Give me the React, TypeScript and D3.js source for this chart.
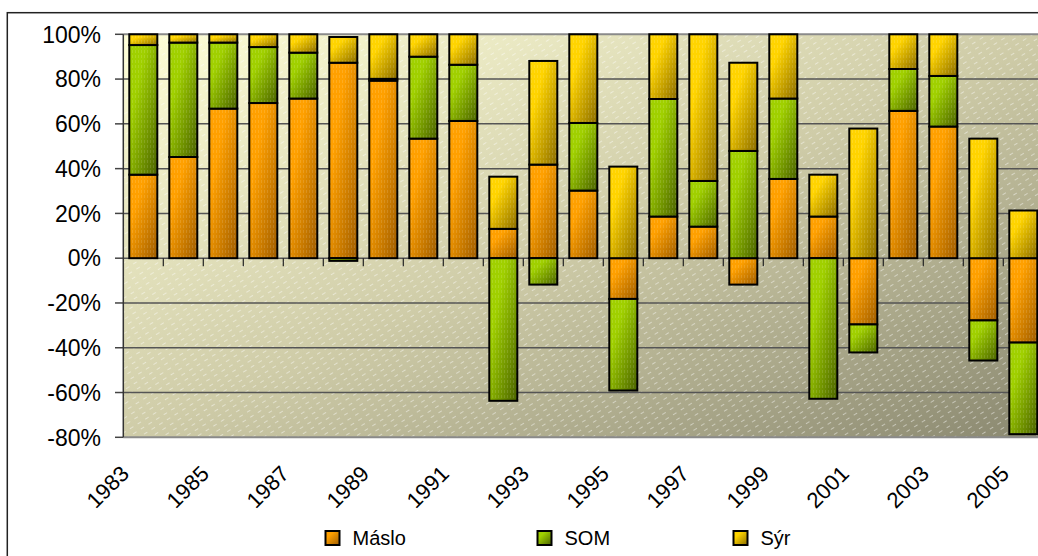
import React from "react";
import * as d3 from "d3";

const years = ["1983","1984","1985","1986","1987","1988","1989","1990","1991","1992","1993","1994","1995","1996","1997","1998","1999","2000","2001","2002","2003","2004","2005"];
const maslo = [37.3, 45.2, 66.8, 69.3, 71.3, 87.3, 79.3, 53.4, 61.3, 13.1, 41.8, 30.2, -18.2, 18.6, 14.1, -11.8, 35.4, 18.6, -29.6, 65.8, 58.8, -27.8, -37.7];
const som = [57.9, 51.1, 29.5, 25.0, 20.5, -1.2, 0.8, 36.6, 25.1, -63.7, -11.8, 30.2, -40.9, 52.5, 20.4, 47.9, 35.9, -62.8, -12.5, 18.7, 22.6, -17.9, -40.9];
const syr = [4.8, 3.7, 3.7, 5.7, 8.2, 11.5, 19.9, 10.0, 13.6, 23.3, 46.3, 39.6, 40.9, 28.9, 65.5, 39.4, 28.7, 18.7, 57.9, 15.5, 18.6, 53.4, 21.3];
const seriesNames = ["Máslo", "SOM", "Sýr"];
const yTicks = [100, 80, 60, 40, 20, 0, -20, -40, -60, -80];
const yearLabels = ["1983","1985","1987","1989","1991","1993","1995","1997","1999","2001","2003","2005"];

const gradStops: Record<string, [string, string]> = {
  "Máslo": ["#FFA000", "#9E5C00"],
  "SOM": ["#A0D000", "#4A6200"],
  "Sýr": ["#FFD400", "#8A6C00"],
};

export default function App() {
  const left = 123.3, right = 1043.3, top = 34.3, bottom = 437.3;
  const x = d3.scaleBand<string>().domain(years).range([left, right]).paddingInner(0.3).paddingOuter(0.15);
  const y = d3.scaleLinear().domain([-80, 100]).range([bottom, top]);
  const table = years.map((yr, i) => ({ year: yr, "Máslo": maslo[i], "SOM": som[i], "Sýr": syr[i] }));
  const stack = d3.stack<any>().keys(seriesNames).offset(d3.stackOffsetDiverging);
  const layers = stack(table);
  const step = x.step();
  const font = "'Liberation Sans', Arial, sans-serif";
  const gid = (n: string) => "g" + seriesNames.indexOf(n);

  return (
    <svg width={1038} height={556} style={{ position: "absolute", left: 0, top: 0 }} fontFamily={font}>
      <defs>
        <linearGradient id="bg" x1="0" y1="0" x2="1" y2="1">
          <stop offset="0" stopColor="#FFFFD8" />
          <stop offset="0.5" stopColor="#CFCCA8" />
          <stop offset="1" stopColor="#8A8870" />
        </linearGradient>
        <pattern id="hatch" width="9" height="6" patternUnits="userSpaceOnUse" patternTransform="rotate(-32)">
          <rect x="0" y="0" width="4" height="1" fill="#FFFFFF" opacity="0.45" />
        </pattern>
        <pattern id="tex" width="3" height="5" patternUnits="userSpaceOnUse">
          <rect x="0" y="0" width="1" height="3" fill="#FFFFFF" opacity="0.12" />
        </pattern>
        {seriesNames.map((n) => (
          <linearGradient key={n} id={gid(n)} x1="0" y1="0" x2="1" y2="1">
            <stop offset="0" stopColor={gradStops[n][0]} />
            <stop offset="0.3" stopColor={gradStops[n][0]} />
            <stop offset="1" stopColor={gradStops[n][1]} />
          </linearGradient>
        ))}
      </defs>
      <rect x={0} y={0} width={1038} height={556} fill="#FFFFFF" />
      <rect x={7.3} y={12.7} width={1100} height={600} fill="none" stroke="#222" strokeWidth={1.5} />
      {/* plot area */}
      <rect x={left} y={top} width={right - left} height={bottom - top} fill="url(#bg)" />
      <rect x={left} y={top} width={right - left} height={bottom - top} fill="url(#hatch)" />
      {/* gridlines */}
      {yTicks.map((t) => (
        <line key={t} x1={left} x2={right} y1={y(t)} y2={y(t)} stroke={t === 100 || t === -80 ? "#8A8A8A" : "#555"} strokeWidth={t === 100 || t === -80 ? 2 : 1.5} />
      ))}
      {/* y ticks & labels */}
      {yTicks.map((t) => (
        <g key={"yt" + t}>
          <line x1={115} x2={left} y1={y(t)} y2={y(t)} stroke="#444" strokeWidth={1.5} />
          <text x={101} y={y(t)} dy="0.36em" textAnchor="end" fontSize={23} fill="#000">{t + "%"}</text>
        </g>
      ))}
      <line x1={left} x2={left} y1={top} y2={bottom} stroke="#333" strokeWidth={1.5} />
      {/* x ticks at category boundaries */}
      {years.slice(1).map((yr) => (
        <line key={"xt" + yr} x1={(x(yr) as number) - step * 0.15} x2={(x(yr) as number) - step * 0.15} y1={y(0)} y2={y(0) + 8} stroke="#222" strokeWidth={1.2} />
      ))}
      {/* bars */}
      {layers.map((layer) => (
        <g key={layer.key}>
          {layer.map((d, i) => {
            const y0 = Math.max(d[0], d[1]);
            const y1 = Math.min(d[0], d[1]);
            if (y0 === y1) return null;
            const bx = x(years[i]) as number;
            const by = y(y0);
            const bh = y(y1) - y(y0);
            return (
              <g key={i}>
                <rect x={bx} y={by} width={x.bandwidth()} height={bh} fill={`url(#${gid(layer.key)})`} />
                <rect x={bx} y={by} width={x.bandwidth()} height={bh} fill="url(#tex)" stroke="#000" strokeWidth={2} />
              </g>
            );
          })}
        </g>
      ))}
      {/* x labels */}
      {yearLabels.map((yr) => {
        const cx = (x(yr) as number) + x.bandwidth() / 2;
        return (
          <text key={"xl" + yr} transform={`translate(${cx - 13},${475}) rotate(-45)`} textAnchor="end" fontSize={22} fill="#000">{yr}</text>
        );
      })}
      {/* legend */}
      {seriesNames.map((n, i) => {
        const lx = [325.5, 537.5, 733.5][i];
        return (
          <g key={"lg" + n}>
            <rect x={lx} y={531} width={14} height={14} fill={`url(#${gid(n)})`} stroke="#000" strokeWidth={2} />
            <text x={lx + 27} y={538} dy="0.36em" fontSize={20} fill="#000">{n}</text>
          </g>
        );
      })}
    </svg>
  );
}
